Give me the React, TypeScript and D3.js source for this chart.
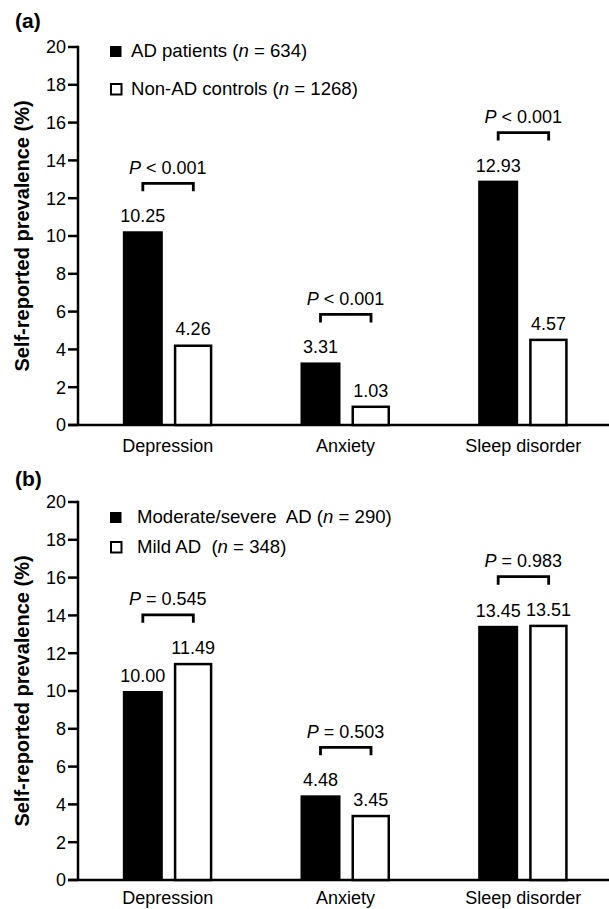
import React from "react";
import * as d3 from "d3";

const categories = ["Depression", "Anxiety", "Sleep disorder"];
const yTicks = [0, 2, 4, 6, 8, 10, 12, 14, 16, 18, 20];

const aPatients = [10.25, 3.31, 12.93];
const aControls = [4.26, 1.03, 4.57];
const aPValues = ["< 0.001", "< 0.001", "< 0.001"];
const aLegend1 = ["AD patients (", "n", " = 634)"];
const aLegend2 = ["Non-AD controls (", "n", " = 1268)"];

const bModerate = [10.0, 4.48, 13.45];
const bMild = [11.49, 3.45, 13.51];
const bPValues = ["= 0.545", "= 0.503", "= 0.983"];
const bLegend1 = ["Moderate/severe  AD (", "n", " = 290)"];
const bLegend2 = ["Mild AD  (", "n", " = 348)"];

const FONT = "'Liberation Sans', Arial, Helvetica, sans-serif";
const W = 609;
const H = 909;

type PanelProps = {
  label: string;
  y0: number;
  y20: number;
  dark: number[];
  light: number[];
  pvals: string[];
  legend1: string[];
  legend2: string[];
  legendTextX: number;
  legendY1: number;
  legendY2: number;
  labelY: number;
  catOffset: number;
};

function Panel(p: PanelProps) {
  const axisX = 78;
  const y = d3.scaleLinear().domain([0, 20]).range([p.y0, p.y20]);
  const x = d3.scaleBand<string>().domain(categories).range([79, 612]).padding(0);
  const c = (cat: string) => (x(cat) as number) + x.bandwidth() / 2;
  const sw = 2.5;
  const fs = 18;
  const lfs = 18.6;
  return (
    <g>
      <text x={15} y={p.labelY} fontFamily={FONT} fontWeight="bold" fontSize={21}>
        {p.label}
      </text>
      <text
        transform={`translate(29,${(p.y0 + p.y20) / 2}) rotate(-90)`}
        textAnchor="middle"
        fontFamily={FONT}
        fontWeight="bold"
        fontSize={20}
      >
        Self-reported prevalence (%)
      </text>
      <line x1={axisX} x2={axisX} y1={y(20) - sw / 2} y2={y(0)} stroke="#000" strokeWidth={sw} />
      {yTicks.map((t) => (
        <g key={t}>
          <line x1={axisX - 10} x2={axisX} y1={y(t)} y2={y(t)} stroke="#000" strokeWidth={sw} />
          <text
            x={axisX - 12}
            y={y(t)}
            dy="0.36em"
            textAnchor="end"
            fontFamily={FONT}
            fontSize={fs}
          >
            {t}
          </text>
        </g>
      ))}
      <line x1={axisX - 10} x2={W} y1={y(0)} y2={y(0)} stroke="#000" strokeWidth={sw} />
      {categories.map((cat, i) => {
        const cx = c(cat);
        const dv = p.dark[i];
        const lv = p.light[i];
        const maxTop = y(Math.max(dv, lv));
        const brY = maxTop - 48;
        const bl = cx - 25;
        const br = cx + 25.5;
        return (
          <g key={cat}>
            <rect x={cx - 45} y={y(dv)} width={40} height={y(0) - y(dv)} fill="#000" />
            <rect
              x={cx + 6 + sw / 2}
              y={y(lv) + sw / 2}
              width={38.5 - sw}
              height={y(0) - y(lv) - sw / 2}
              fill="#fff"
              stroke="#000"
              strokeWidth={sw}
            />
            <text x={cx - 25} y={y(dv) - 9} textAnchor="middle" fontFamily={FONT} fontSize={fs}>
              {dv.toFixed(2)}
            </text>
            <text x={cx + 25.3} y={y(lv) - 9} textAnchor="middle" fontFamily={FONT} fontSize={fs}>
              {lv.toFixed(2)}
            </text>
            <path
              d={`M${bl},${brY + 8}V${brY}H${br}V${brY + 8}`}
              fill="none"
              stroke="#000"
              strokeWidth={2.8}
            />
            <text
              x={cx}
              y={brY - 9.5}
              textAnchor="middle"
              fontFamily={FONT}
              fontSize={fs}
              style={{ whiteSpace: "pre" }}
            >
              <tspan fontStyle="italic">P</tspan>
              {" " + p.pvals[i]}
            </text>
            <text x={cx} y={y(0) + p.catOffset} textAnchor="middle" fontFamily={FONT} fontSize={fs}>
              {cat}
            </text>
          </g>
        );
      })}
      <rect x={110} y={p.legendY1 - 11} width={11.5} height={11} fill="#000" />
      <text x={p.legendTextX} y={p.legendY1} fontFamily={FONT} fontSize={lfs} style={{ whiteSpace: "pre" }}>
        {p.legend1[0]}
        <tspan fontStyle="italic">{p.legend1[1]}</tspan>
        {p.legend1[2]}
      </text>
      <rect
        x={111}
        y={p.legendY2 - 11}
        width={10.5}
        height={10.5}
        fill="#fff"
        stroke="#000"
        strokeWidth={2}
      />
      <text x={p.legendTextX} y={p.legendY2} fontFamily={FONT} fontSize={lfs} style={{ whiteSpace: "pre" }}>
        {p.legend2[0]}
        <tspan fontStyle="italic">{p.legend2[1]}</tspan>
        {p.legend2[2]}
      </text>
    </g>
  );
}

export default function App() {
  return (
    <svg
      width={W}
      height={H}
      viewBox={`0 0 ${W} ${H}`}
      style={{ position: "absolute", left: 0, top: 0, display: "block", background: "#fff" }}
    >
      <rect x={0} y={0} width={W} height={H} fill="#fff" />
      <Panel
        label="(a)"
        y0={425}
        y20={47}
        dark={aPatients}
        light={aControls}
        pvals={aPValues}
        legend1={aLegend1}
        legend2={aLegend2}
        legendTextX={131}
        legendY1={57}
        legendY2={95}
        labelY={28}
        catOffset={27}
      />
      <Panel
        label="(b)"
        y0={880}
        y20={502}
        dark={bModerate}
        light={bMild}
        pvals={bPValues}
        legend1={bLegend1}
        legend2={bLegend2}
        legendTextX={137}
        legendY1={523}
        legendY2={553}
        labelY={486}
        catOffset={24}
      />
    </svg>
  );
}
